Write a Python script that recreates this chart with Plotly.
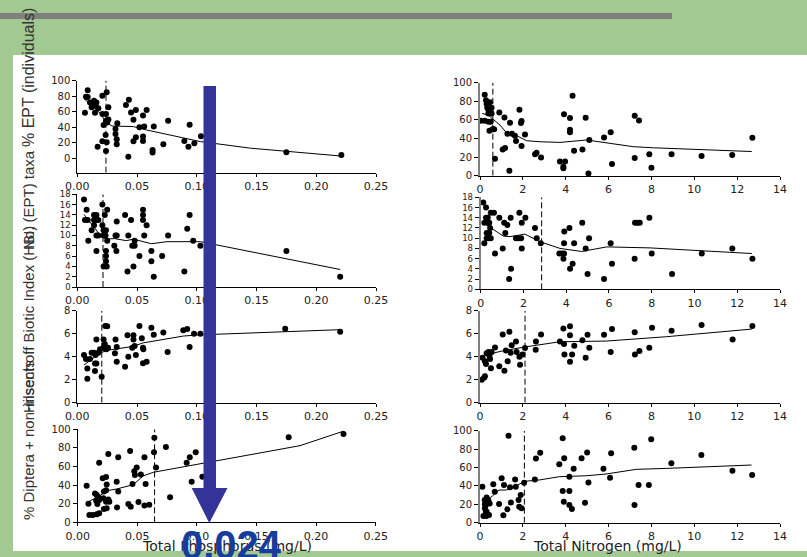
import plotly.graph_objects as go

W, H = 807, 557

# ---------------- data ----------------
# Panel L1: Total Phosphorus vs % EPT (individuals)
tp_ept_ind_x = [0.0064, 0.0087, 0.0073, 0.0087, 0.0106, 0.014, 0.012, 0.014, 0.016, 0.0153, 0.0176, 0.0148, 0.017,
                0.021, 0.0246, 0.021, 0.024, 0.022, 0.024, 0.026, 0.026, 0.021, 0.0237, 0.0246, 0.024, 0.025, 0.032,
                0.0335, 0.032, 0.033, 0.033, 0.0427, 0.0407, 0.0432, 0.045, 0.047, 0.049, 0.047, 0.049, 0.052, 0.056,
                0.055, 0.055, 0.055, 0.058, 0.063, 0.063, 0.064, 0.072, 0.076, 0.0896, 0.093, 0.094, 0.098, 0.1035,
                0.175, 0.221]
tp_ept_ind_y = [58.8, 87.6, 79.4, 79, 72, 74, 65.7, 70, 72, 67, 64.4, 58.8, 15, 80.7, 85, 57, 57, 43, 48.5, 50, 65.7,
                22, 30, 20.6, 9.4, 46, 37.8, 45, 31.3, 24.5, 18, 2, 68.7, 75.5, 59, 49.8, 62.2, 22, 27, 40, 40.8, 55,
                28, 22.3, 62.2, 10.7, 7.3, 40.8, 18, 48.5, 22.3, 15, 43.3, 19.3, 28.3, 7.7, 4.3]
tp_ept_ind_fit_x = [0.0056, 0.0106, 0.019, 0.024, 0.029, 0.047, 0.058, 0.103, 0.145, 0.220]
tp_ept_ind_fit_y = [77, 70, 58, 47, 41.6, 40.8, 36.5, 21.5, 13, 3]

# Panel R1: Total Nitrogen vs % EPT (individuals)
tn_ept_ind_x = [0.22, 0.05, 0.23, 0.40, 0.50, 0.28, 0.34, 0.39, 0.39, 0.47, 0.54, 0.54, 0.31, 0.44, 0.59, 0.66, 0.70,
                0.90, 1.14, 1.06, 1.17, 1.28, 1.37, 1.40, 1.49, 1.63, 1.68, 1.84, 1.91, 1.94, 1.94, 2.10, 2.57, 2.64,
                2.85, 3.73, 3.97, 3.89, 3.89, 3.92, 4.20, 4.20, 4.20, 4.32, 4.39, 4.78, 4.93, 5.06, 5.10, 5.79, 6.10,
                6.16, 7.22, 7.22, 7.42, 7.90, 8.00, 8.94, 10.34, 11.77, 12.71]
tn_ept_ind_y = [87, 59, 59, 58, 58, 81, 73, 71, 67, 79, 73, 67, 77, 48.4, 50, 50, 18.3, 68, 62.7, 28.3, 29.7, 45, 5.4,
                57, 45, 43, 37.3, 71, 56.6, 58.8, 31.9, 44.4, 23, 24.7, 19.7, 15.4, 15.4, 9.7, 7.9, 66, 62, 49.5, 46.6,
                86, 26.9, 28.3, 62.4, 2.5, 38.4, 41.2, 46.6, 12.5, 64.5, 18.9, 59.3, 23, 8.6, 23, 21.2, 22.2, 40.9]
tn_ept_ind_fit_x = [0.10, 0.39, 0.93, 1.24, 1.71, 2.18, 2.80, 3.73, 4.98, 5.90, 7.15, 8.10, 12.68]
tn_ept_ind_fit_y = [67, 65, 54.5, 46, 43, 37.6, 36.5, 35.8, 38.4, 35.5, 31.2, 30, 26]

# Panel L2: Total Phosphorus vs No. EPT taxa
tp_ept_taxa_x = [0.0056, 0.0078, 0.0064, 0.0087, 0.0092, 0.012, 0.014, 0.016, 0.014, 0.016, 0.0176, 0.014, 0.016,
                 0.0176, 0.016, 0.021, 0.023, 0.025, 0.021, 0.022, 0.024, 0.022, 0.0236, 0.024, 0.024, 0.024, 0.022,
                 0.0246, 0.025, 0.032, 0.033, 0.033, 0.031, 0.0327, 0.040, 0.0427, 0.045, 0.042, 0.047, 0.046, 0.048,
                 0.048, 0.052, 0.055, 0.055, 0.055, 0.056, 0.058, 0.062, 0.062, 0.064, 0.071, 0.076, 0.0896, 0.092,
                 0.094, 0.097, 0.103, 0.175, 0.220]
tp_ept_taxa_y = [17, 15, 13, 13, 9, 11, 14, 14, 13, 13, 13, 12, 10, 10, 7, 16, 14, 15, 12, 11, 11, 10, 10, 7, 6, 5, 4,
                 4, 9, 10, 10, 12.7, 8, 7, 14, 10, 13, 3, 4, 8, 8, 9, 6, 15, 14, 13, 10, 12, 7, 5, 2, 6, 10, 3, 11.3,
                 14, 9, 8, 7, 2]
tp_ept_taxa_fit_x = [0.0056, 0.019, 0.024, 0.031, 0.041, 0.047, 0.062, 0.075, 0.103, 0.220]
tp_ept_taxa_fit_y = [14.1, 10.1, 9.3, 9.4, 9.0, 9.3, 8.4, 8.8, 8.8, 3.4]

# Panel R2: Total Nitrogen vs No. EPT taxa
tn_ept_taxa_x = [0.12, 0.25, 0.17, 0.17, 0.25, 0.33, 0.33, 0.40, 0.28, 0.40, 0.28, 0.36, 0.47, 0.44, 0.47, 0.62, 0.67,
                 0.87, 1.03, 1.10, 1.15, 1.25, 1.33, 1.40, 1.42, 1.65, 1.76, 1.89, 1.81, 1.92, 1.92, 2.09, 2.54, 2.62,
                 2.81, 3.68, 3.79, 3.90, 3.87, 3.91, 3.90, 4.15, 4.18, 4.30, 4.37, 4.75, 4.91, 5.00, 5.07, 5.77, 6.08,
                 6.14, 7.20, 7.22, 7.33, 7.44, 7.89, 8.00, 8.95, 10.34, 11.77, 12.71]
tn_ept_taxa_y = [17, 16, 13, 9, 14, 14, 13, 13, 11, 11, 10, 10, 10, 12, 15, 15, 7, 14, 8, 13, 11, 12.6, 2, 14, 4, 10,
                 10, 10, 15, 13, 8, 14, 12, 10, 9, 7, 7, 7, 6, 11.3, 9, 12, 4, 5, 9, 13, 8, 3, 10, 2, 9, 5, 6, 13, 13,
                 13, 14, 7, 3, 7, 8, 6]
tn_ept_taxa_fit_x = [0.08, 1.06, 1.37, 2.07, 2.78, 3.71, 4.72, 5.90, 7.92, 12.68]
tn_ept_taxa_fit_y = [13.1, 10.4, 10.3, 10.8, 9.3, 8.0, 7.4, 8.3, 8.1, 7.0]

# Panel L3: Total Phosphorus vs Hilsenhoff Biotic Index
tp_hbi_x = [0.0056, 0.0073, 0.0084, 0.0084, 0.0106, 0.012, 0.014, 0.0148, 0.0148, 0.016, 0.0153, 0.016, 0.0176, 0.019,
            0.0204, 0.022, 0.022, 0.023, 0.024, 0.0234, 0.025, 0.0243, 0.0257, 0.0315, 0.032, 0.033, 0.033, 0.040,
            0.042, 0.0427, 0.046, 0.047, 0.047, 0.048, 0.049, 0.052, 0.054, 0.055, 0.0553, 0.055, 0.058, 0.062,
            0.064, 0.072, 0.0756, 0.0887, 0.092, 0.094, 0.0977, 0.103, 0.174, 0.220]
tp_hbi_y = [4.14, 3.8, 2.98, 2.08, 3.8, 4.35, 4.35, 2.75, 3.4, 3.4, 4.14, 5.5, 4.35, 4.64, 2.25, 4.78, 5.5, 5.1, 4.7,
            6.67, 6.64, 4.64, 4.78, 4.3, 5.5, 4.85, 3.57, 3.13, 5.86, 4.0, 4.78, 5.5, 5.86, 4.93, 4.14, 6.67, 5.6,
            4.78, 4.64, 3.42, 3.57, 6.52, 5.9, 6.1, 4.4, 6.3, 6.4, 4.85, 6.0, 6.0, 6.43, 6.17]
tp_hbi_fit_x = [0.0056, 0.019, 0.0245, 0.047, 0.055, 0.089, 0.103, 0.220]
tp_hbi_fit_y = [3.28, 4.3, 4.55, 4.9, 5.2, 5.8, 5.9, 6.35]

# Panel R3: Total Nitrogen vs Hilsenhoff Biotic Index
tn_hbi_x = [0.12, 0.08, 0.19, 0.23, 0.23, 0.28, 0.31, 0.39, 0.44, 0.47, 0.51, 0.54, 0.70, 0.90, 1.06, 1.14, 1.21,
            1.29, 1.37, 1.43, 1.48, 1.68, 1.71, 1.84, 1.87, 1.98, 2.10, 2.61, 2.60, 2.85, 3.73, 3.89, 3.94, 3.92,
            4.20, 4.20, 4.20, 4.30, 4.40, 4.78, 4.93, 5.02, 5.10, 5.79, 6.10, 6.16, 7.22, 7.23, 7.44, 7.90, 8.03,
            8.94, 10.34, 11.79, 12.71]
tn_hbi_y = [3.91, 2.0, 2.17, 2.3, 3.6, 3.36, 4.3, 4.4, 4.1, 3.8, 3.0, 4.4, 4.8, 3.16, 5.94, 2.78, 4.55, 3.6, 6.17,
            4.35, 5.0, 5.33, 4.4, 4.0, 3.3, 4.2, 4.75, 5.33, 4.6, 5.94, 5.33, 6.46, 4.2, 5.1, 6.64, 5.86, 3.57, 4.2,
            4.96, 5.43, 3.9, 5.9, 4.78, 5.9, 4.4, 6.4, 6.12, 4.2, 4.5, 4.78, 6.52, 6.26, 6.75, 5.5, 6.67]
tn_hbi_fit_x = [0.16, 0.39, 0.70, 1.09, 2.18, 3.73, 5.91, 8.71, 12.68]
tn_hbi_fit_y = [3.3, 4.0, 4.35, 4.52, 4.87, 5.3, 5.36, 5.74, 6.4]

# Panel L4: Total Phosphorus vs % Diptera + non-insects
tp_dip_x = [0.0075, 0.009, 0.0098, 0.0126, 0.016, 0.018, 0.0145, 0.016, 0.018, 0.0173, 0.0155, 0.018, 0.0165, 0.021,
            0.0238, 0.0243, 0.0257, 0.022, 0.0238, 0.0215, 0.0238, 0.0257, 0.0265, 0.0243, 0.022, 0.0327, 0.034,
            0.034, 0.033, 0.0425, 0.0445, 0.044, 0.046, 0.0475, 0.048, 0.0495, 0.051, 0.053, 0.056, 0.057, 0.056,
            0.060, 0.0643, 0.064, 0.0657, 0.074, 0.0775, 0.0914, 0.094, 0.099, 0.0956, 0.1046, 0.177, 0.223]
tp_dip_y = [39.4, 20, 7.9, 7.9, 8.6, 9.7, 31, 29.4, 64, 27, 23.3, 24, 19.7, 47.3, 48.7, 40.7, 73.5, 33, 34.5, 25.8,
            22, 24.4, 22, 15, 14.3, 43.6, 70, 33, 16, 19.7, 16.8, 76.7, 41.2, 55, 50.9, 59, 21.9, 51.3, 70, 41.2, 18,
            19, 91, 75.3, 59, 81, 27, 64, 70, 75.3, 43.6, 49, 91.4, 95]
tp_dip_fit_x = [0.0075, 0.0187, 0.0243, 0.0327, 0.0467, 0.055, 0.0635, 0.1026, 0.1865, 0.223]
tp_dip_fit_y = [21, 28.7, 34, 35.8, 40.5, 50, 53.8, 62.7, 82.4, 98]

# Panel R4: Total Nitrogen vs % Diptera + non-insects
tn_dip_x = [0.11, 0.16, 0.23, 0.30, 0.22, 0.27, 0.27, 0.31, 0.39, 0.45, 0.42, 0.31, 0.23, 0.62, 0.69, 0.89, 1.01,
            1.09, 1.12, 1.28, 1.33, 1.40, 1.44, 1.64, 1.67, 1.80, 1.83, 1.90, 1.94, 2.06, 2.56, 2.61, 2.81, 3.70,
            3.86, 3.86, 3.91, 3.93, 4.17, 4.17, 4.17, 4.29, 4.37, 4.74, 4.90, 5.00, 5.06, 5.76, 6.07, 6.12, 7.20,
            7.21, 7.40, 7.88, 7.99, 8.93, 10.33, 11.78, 12.70]
tn_dip_y = [39, 7.2, 15.6, 7.2, 24.6, 19.2, 12, 27.5, 24, 21, 8.3, 12, 20, 41.7, 33.7, 20.3, 48.2, 8, 41, 14.5, 94.6,
            38.4, 22, 47, 39, 24.6, 17.4, 30, 15.6, 43.5, 47, 69.9, 76, 63.4, 34.4, 91.7, 22.8, 70, 50, 34.4, 19.2,
            14.9, 58.7, 70, 21.7, 76.4, 43.8, 58.7, 48.9, 75.4, 81.5, 19.2, 41, 41, 90.6, 64.5, 73.5, 56.5, 51.8]
tn_dip_fit_x = [0.11, 0.58, 0.89, 1.20, 1.51, 1.75, 2.06, 2.76, 3.70, 4.95, 5.88, 7.29, 8.69, 12.67]
tn_dip_fit_y = [21, 29, 35.5, 35.5, 37.3, 41, 45, 46.4, 50, 51, 52.9, 58, 59, 62.7]

# change-point thresholds (dashed lines)
thresholds = [0.024, 0.6, 0.0215, 2.85, 0.0205, 2.1, 0.0645, 2.07]

y_titles = ["% EPT (individuals)", "No. (EPT) taxa", "Hilsenhoff Biotic Index (HBI)", "% Diptera + non-insects"]
x_titles = ["Total Phosphorus (mg/L)", "Total Nitrogen (mg/L)"]
tp_ticks = [0.00, 0.05, 0.10, 0.15, 0.20, 0.25]
tn_ticks = [0, 2, 4, 6, 8, 10, 12, 14]
callout = "0.024"

panels = [
    (tp_ept_ind_x, tp_ept_ind_y, tp_ept_ind_fit_x, tp_ept_ind_fit_y),
    (tn_ept_ind_x, tn_ept_ind_y, tn_ept_ind_fit_x, tn_ept_ind_fit_y),
    (tp_ept_taxa_x, tp_ept_taxa_y, tp_ept_taxa_fit_x, tp_ept_taxa_fit_y),
    (tn_ept_taxa_x, tn_ept_taxa_y, tn_ept_taxa_fit_x, tn_ept_taxa_fit_y),
    (tp_hbi_x, tp_hbi_y, tp_hbi_fit_x, tp_hbi_fit_y),
    (tn_hbi_x, tn_hbi_y, tn_hbi_fit_x, tn_hbi_fit_y),
    (tp_dip_x, tp_dip_y, tp_dip_fit_x, tp_dip_fit_y),
    (tn_dip_x, tn_dip_y, tn_dip_fit_x, tn_dip_fit_y),
]

# ---------------- layout geometry (pixels) ----------------
# (x_left, x_right, y_top, y_bottom, yrange, dtick, right_column)
geom = [
    (77.3, 376.0, 80.7, 172.7, [-18.6, 100], 20, False),
    (480.0, 780.0, 82.7, 175.7, [0, 100], 20, True),
    (77.3, 376.0, 194.3, 287.0, [0, 18], 2, False),
    (480.7, 780.0, 197.3, 289.3, [0, 18], 2, True),
    (77.3, 376.0, 310.7, 402.7, [0, 8], 2, False),
    (480.0, 780.0, 310.7, 402.7, [0, 8], 2, True),
    (77.7, 375.7, 429.3, 522.3, [0, 100], 20, False),
    (480.0, 780.0, 430.7, 522.7, [0, 100], 20, True),
]


def px(x):
    return x / W


def py(y):
    return 1 - y / H


XTICKFONT = dict(family="DejaVu Sans", size=11, color="#222222")

fig = go.Figure()
layout_axes = {}
for i, ((xs, ys, fx, fy), g, thr) in enumerate(zip(panels, geom, thresholds)):
    n = "" if i == 0 else str(i + 1)
    xl, xr, yt, yb, yr, dt, right = g
    xref, yref = "x" + n, "y" + n
    # dashed threshold line
    fig.add_trace(go.Scatter(x=[thr, thr], y=[yr[0], yr[1]], mode="lines",
                             line=dict(color="black", width=1, dash="6px,3px"),
                             xaxis=xref, yaxis=yref, showlegend=False, hoverinfo="skip"))
    # points
    fig.add_trace(go.Scatter(x=xs, y=ys, mode="markers",
                             marker=dict(color="black", size=6, line=dict(width=0)),
                             xaxis=xref, yaxis=yref, showlegend=False, cliponaxis=False))
    # smooth line
    fig.add_trace(go.Scatter(x=fx, y=fy, mode="lines", line=dict(color="black", width=1),
                             xaxis=xref, yaxis=yref, showlegend=False, cliponaxis=False))
    if right:
        xaxis = dict(range=[0, 14], tickvals=tn_ticks, ticktext=[str(t) for t in tn_ticks])
        ylinecolor, ylinewidth = "#808080", 2
    else:
        xaxis = dict(range=[0, 0.25], tickvals=tp_ticks, ticktext=[f"{t:.2f}" for t in tp_ticks])
        ylinecolor, ylinewidth = "black", 1
    ytick_size = 8.5 if (yr[1] - yr[0]) / dt > 6 else 10
    xaxis.update(domain=[px(xl), px(xr)], anchor=yref, showgrid=False, zeroline=False, automargin=False,
                 showline=True, linecolor="black", linewidth=1, ticks="outside", ticklen=3,
                 tickcolor="black", tickfont=XTICKFONT, fixedrange=True)
    yaxis = dict(domain=[py(yb), py(yt)], anchor=xref, range=yr, tickmode="linear", tick0=0, dtick=dt,
                 showgrid=False, zeroline=False, showline=True, linecolor=ylinecolor, linewidth=ylinewidth,
                 automargin=False, ticks="outside", ticklen=4, tickcolor="black",
                 tickfont=dict(family="DejaVu Sans", size=ytick_size, color="#222222"),
                 fixedrange=True)
    layout_axes["xaxis" + n] = xaxis
    layout_axes["yaxis" + n] = yaxis

shapes = [
    # white slide panel
    dict(type="rect", xref="paper", yref="paper", x0=px(13), x1=1.0, y0=py(551), y1=py(55),
         fillcolor="white", line=dict(width=0), layer="below"),
    # gray header bar
    dict(type="rect", xref="paper", yref="paper", x0=0, x1=px(672), y0=py(19), y1=py(13),
         fillcolor="#808080", line=dict(width=0), layer="below"),
    # blue arrow shaft
    dict(type="rect", xref="paper", yref="paper", x0=px(203.5), x1=px(216), y0=py(489), y1=py(86),
         fillcolor="#333399", line=dict(width=0), layer="above"),
    # arrow head
    dict(type="path", xref="paper", yref="paper",
         path=f"M {px(191.7)},{py(488)} L {px(227.5)},{py(488)} L {px(209.3)},{py(523)} Z",
         fillcolor="#333399", line=dict(width=0), layer="above"),
]

annotations = []
ytitle_centers = [78, 200, 320, 440]
ytitle_sizes = [16, 15, 15, 15]
for t, c, s in zip(y_titles, ytitle_centers, ytitle_sizes):
    annotations.append(dict(text=t, x=px(28), y=py(c), xref="paper", yref="paper", showarrow=False,
                            textangle=-90, xanchor="center", yanchor="middle",
                            font=dict(family="Liberation Sans", size=s, color="#333333")))
for t, cx in zip(x_titles, [227, 607]):
    annotations.append(dict(text=t, x=px(cx), y=py(546), xref="paper", yref="paper", showarrow=False,
                            xanchor="center", yanchor="middle",
                            font=dict(family="DejaVu Sans", size=14, color="#222222")))
annotations.append(dict(text=f"<b>{callout}</b>", x=px(231.7), y=py(521), xref="paper", yref="paper",
                        showarrow=False, xanchor="center", yanchor="top",
                        font=dict(family="Liberation Sans", size=40, color="#163c9c")))

fig.update_layout(
    template="none",
    width=W, height=H, autosize=False,
    margin=dict(l=0, r=0, t=0, b=0, pad=0, autoexpand=False),
    paper_bgcolor="#a3c993", plot_bgcolor="rgba(0,0,0,0)",
    showlegend=False, shapes=shapes, annotations=annotations,
    hovermode=False,
    **layout_axes,
)

fig.write_html("out.html", config={"displayModeBar": False, "staticPlot": True},
               post_script="document.body.style.margin='0';document.body.style.overflow='hidden';")
